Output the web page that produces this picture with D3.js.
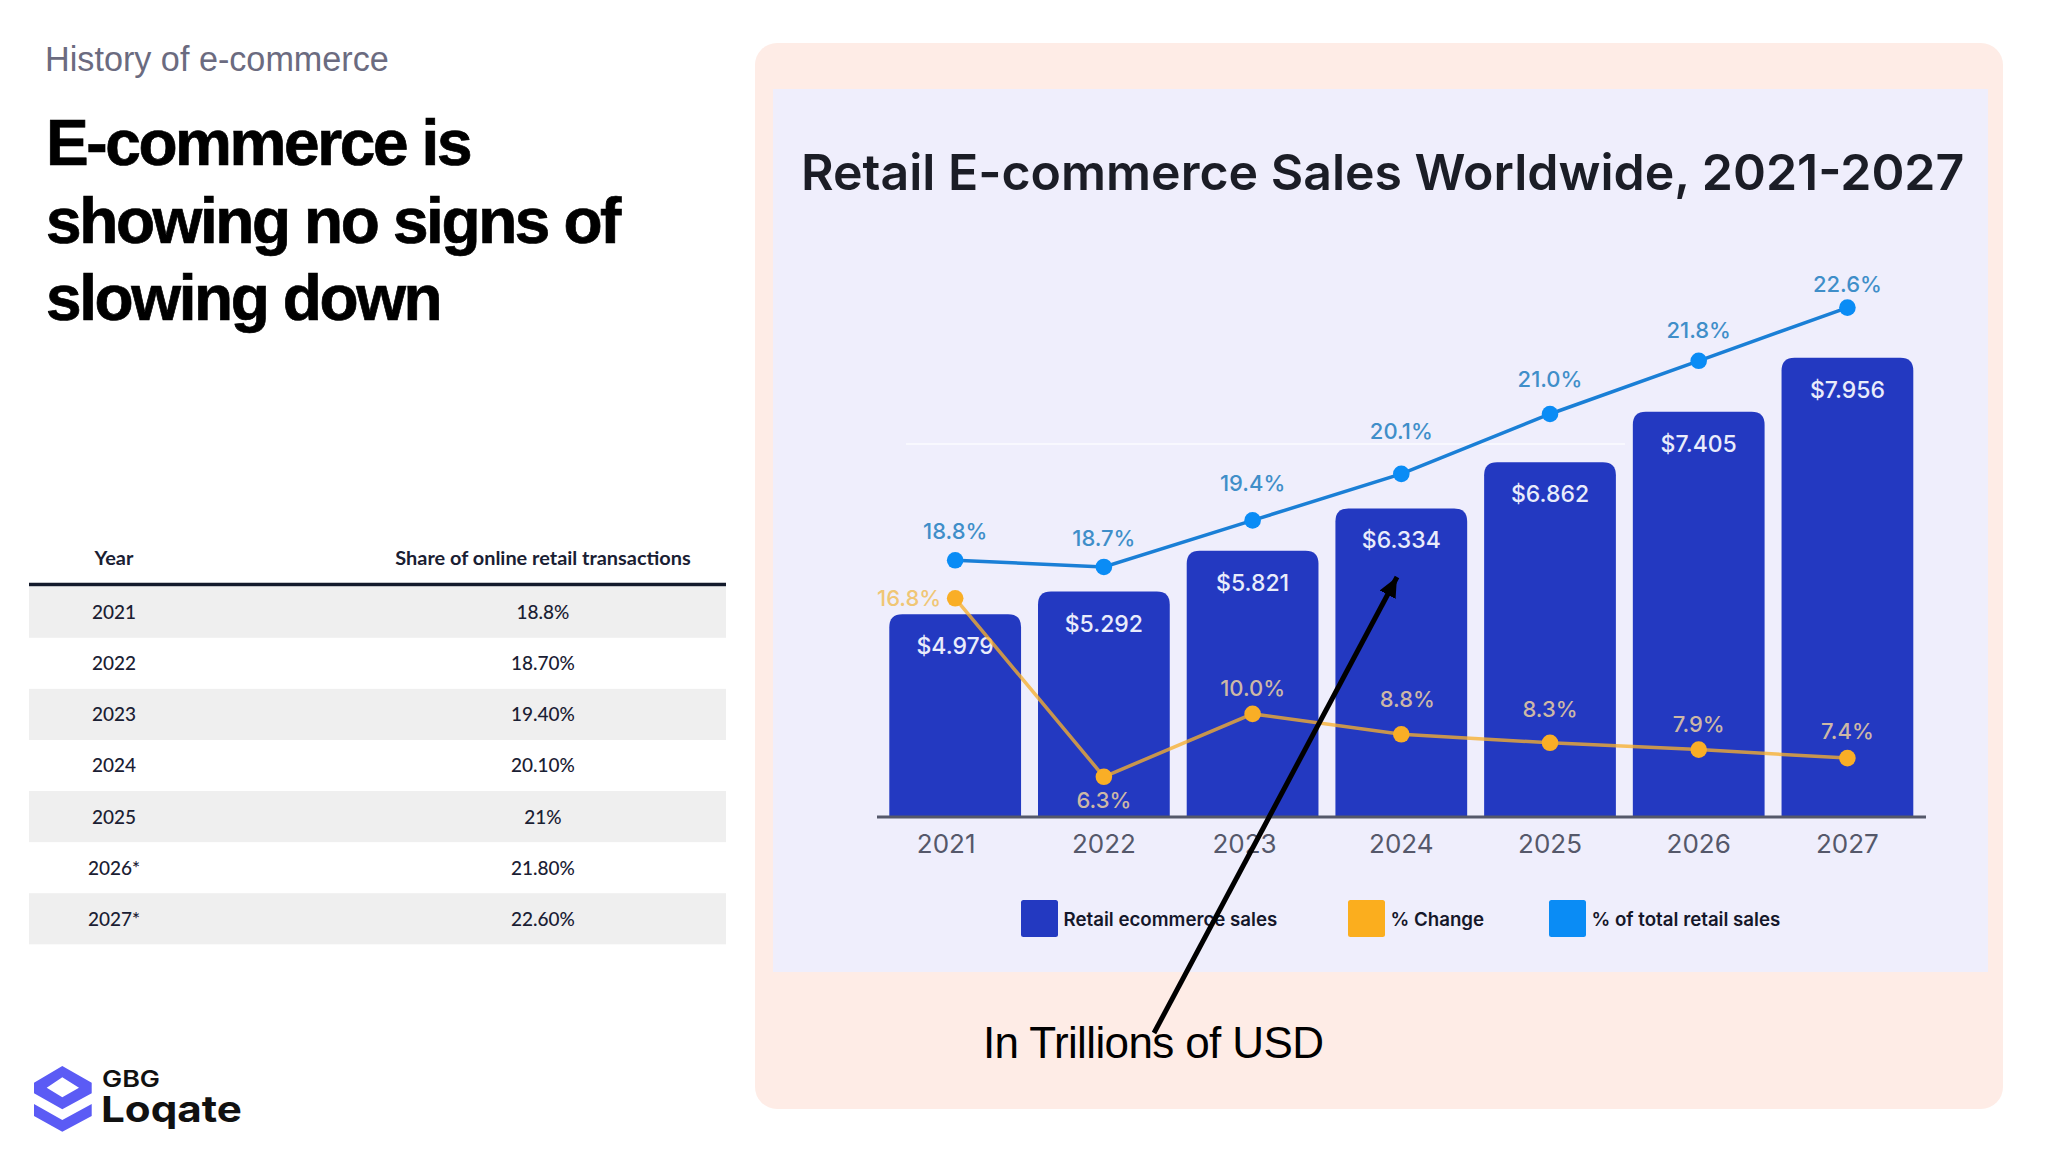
<!DOCTYPE html>
<html>
<head>
<meta charset="utf-8">
<script src="https://d3js.org/d3.v7.min.js"></script>
<style>
  html, body { margin: 0; padding: 0; background: #fff; }
  svg { display: block; }
</style>
</head>
<body>
<div id="chart"></div>
<script>
// Data
const years = ["2021", "2022", "2023", "2024", "2025", "2026", "2027"];
const salesValues = [4.979, 5.292, 5.821, 6.334, 6.862, 7.405, 7.956];
const changePct = [16.8, 6.3, 10.0, 8.8, 8.3, 7.9, 7.4];
const sharePct = [18.8, 18.7, 19.4, 20.1, 21.0, 21.8, 22.6];
const legendLabels = ["Retail ecommerce sales", "% Change", "% of total retail sales"];

const tableHeader = ["Year", "Share of online retail transactions"];
const tableYears = ["2021", "2022", "2023", "2024", "2025", "2026*", "2027*"];
const tableShares = ["18.8%", "18.70%", "19.40%", "20.10%", "21%", "21.80%", "22.60%"];

const eyebrow = "History of e-commerce";
const headingLines = ["E-commerce is", "showing no signs of", "slowing down"];
const chartTitle = "Retail E-commerce Sales Worldwide, 2021-2027";
const noteText = "In Trillions of USD";

// Colours
const barColor = "#2339C1", orangeColor = "#FBAE1E", blueColor = "#0A8CF5";

const svg = d3.select("#chart").append("svg")
  .attr("width", 2048)
  .attr("height", 1152)
  .style("font-family", "Inter, sans-serif");

// Panels
svg.append("rect").attr("x", 755).attr("y", 43).attr("width", 1248).attr("height", 1066)
  .attr("rx", 22).attr("fill", "#FEECE6");
svg.append("rect").attr("x", 773).attr("y", 89).attr("width", 1215).attr("height", 883)
  .attr("fill", "#EFEEFC");

// Left column text
svg.append("text").attr("x", 45).attr("y", 71)
  .style("font-family", "'Liberation Sans', sans-serif")
  .style("font-size", "34.2px").attr("fill", "#6B6B80").text(eyebrow);

svg.append("g").selectAll("text").data(headingLines).join("text")
  .attr("x", 46)
  .attr("y", (d, i) => 165 + i * 77.5)
  .style("font-family", "'Liberation Sans', sans-serif")
  .style("font-size", "64px").style("font-weight", 700).style("letter-spacing", "-2.4px")
  .attr("fill", "#000").attr("stroke", "#000").attr("stroke-width", 0.7).text(d => d);

// Table
const rowY = d3.scaleBand().domain(tableYears).range([586.7, 944.3]);
const table = svg.append("g").style("font-family", "Lato, sans-serif").attr("fill", "#1A2033");

table.selectAll("rect").data(tableYears.filter((d, i) => i % 2 === 0)).join("rect")
  .attr("x", 29).attr("width", 697)
  .attr("y", d => rowY(d)).attr("height", rowY.bandwidth())
  .attr("fill", "#EFEFEF");

table.append("line").attr("x1", 29).attr("x2", 726).attr("y1", 584.5).attr("y2", 584.5)
  .attr("stroke", "#131A2B").attr("stroke-width", 3.5);

table.selectAll("text.head").data(tableHeader).join("text").attr("class", "head")
  .attr("x", (d, i) => i === 0 ? 114 : 543).attr("y", 565)
  .attr("text-anchor", "middle").style("font-size", "19.9px").style("font-weight", 700)
  .text(d => d);

table.selectAll("text.year").data(tableYears).join("text").attr("class", "year")
  .attr("x", 114).attr("y", d => rowY(d) + 32.5)
  .attr("text-anchor", "middle").style("font-size", "19px").style("font-weight", 500).text(d => d);

table.selectAll("text.share").data(tableShares).join("text").attr("class", "share")
  .attr("x", 543).attr("y", (d, i) => rowY(tableYears[i]) + 32.5)
  .attr("text-anchor", "middle").style("font-size", "19px").style("font-weight", 500).text(d => d);

// Logo
const logo = svg.append("g").attr("fill", "#5B5BF5");
logo.append("path").attr("fill-rule", "evenodd")
  .attr("d", "M62.3 1066 L91.7 1082.7 V1093.3 L62.3 1109.3 L34 1093.3 V1082.7 Z M62.3 1077.3 L46.7 1087.7 L62.3 1097.3 L79 1087.7 Z");
logo.append("path").attr("d", "M34 1104 L62.3 1120 L91.7 1104 V1116 L62.3 1131.7 L34 1116 Z");
svg.append("text").attr("x", 102).attr("y", 1087).style("font-size", "23px").style("font-weight", 600)
  .attr("textLength", 58).attr("lengthAdjust", "spacingAndGlyphs")
  .attr("fill", "#111").text("GBG");
svg.append("text").attr("x", 101).attr("y", 1122).style("font-size", "36px").style("font-weight", 700)
  .attr("textLength", 141).attr("lengthAdjust", "spacingAndGlyphs")
  .attr("fill", "#111").text("Loqate");

// Chart title
svg.append("text").attr("x", 801).attr("y", 190)
  .style("font-size", "50px").style("font-weight", 600).attr("fill", "#1B1D26").text(chartTitle);

// Scales
const x = d3.scaleBand().domain(years).range([889.3, 1913.3]).paddingInner(0.114);
const baseY = 817;
// the original bars are not proportional to their labels, a power scale follows them best
const ySales = d3.scalePow().exponent(1.745).domain([0, 7.956]).range([baseY, 357.7]);
const yShare = d3.scaleLinear().domain([18.8, 22.6]).range([560.3, 307.6]);
const yChange = d3.scaleLinear().domain([16.8, 6.3]).range([598.3, 776.8]);
const cx = d => x(d) + x.bandwidth() / 2;

// Faint gridline behind the bars
svg.append("line").attr("x1", 906).attr("x2", 1625).attr("y1", 444).attr("y2", 444)
  .attr("stroke", "#F8F8FE").attr("stroke-width", 2);

// Bars
const barRadius = 13;
svg.append("g").selectAll("path").data(years).join("path")
  .attr("fill", barColor)
  .attr("d", (d, i) => {
    const x0 = x(d), w = x.bandwidth(), top = ySales(salesValues[i]);
    return `M${x0},${baseY}V${top + barRadius}Q${x0},${top} ${x0 + barRadius},${top}` +
      `H${x0 + w - barRadius}Q${x0 + w},${top} ${x0 + w},${top + barRadius}V${baseY}Z`;
  });

svg.append("g").selectAll("text").data(years).join("text")
  .attr("x", d => cx(d))
  .attr("y", (d, i) => ySales(salesValues[i]) + 40)
  .attr("text-anchor", "middle").attr("fill", "#E9ECFB")
  .style("font-size", "23px").style("font-weight", 500)
  .text((d, i) => "$" + salesValues[i].toFixed(3));

// Axis
const tickNudge = [-9, 0, -8, 0, 0, 0, 0];
const axis = svg.append("g").attr("transform", `translate(0,${baseY})`)
  .call(d3.axisBottom(x).tickSize(0).tickPadding(18));
axis.select(".domain").attr("d", "M877,0H1926").attr("stroke", "#55586A").attr("stroke-width", 3);
axis.selectAll("text")
  .attr("dx", (d, i) => tickNudge[i])
  .attr("fill", "#55586A").style("font-family", "Inter, sans-serif").style("font-size", "26px");

// Lines
const shareLine = d3.line().x(d => cx(d)).y((d, i) => yShare(sharePct[i]));
const changeLine = d3.line().x(d => cx(d)).y((d, i) => yChange(changePct[i]));

svg.append("path").attr("d", shareLine(years)).attr("fill", "none")
  .attr("stroke", "#1A7FD6").attr("stroke-width", 3.5);
svg.append("path").attr("d", changeLine(years)).attr("fill", "none")
  .attr("stroke", "#F6B02E").attr("stroke-opacity", 0.78).attr("stroke-width", 3.5);

svg.append("g").selectAll("circle").data(years).join("circle")
  .attr("cx", d => cx(d)).attr("cy", (d, i) => yShare(sharePct[i])).attr("r", 8.3)
  .attr("fill", blueColor);
svg.append("g").selectAll("circle").data(years).join("circle")
  .attr("cx", d => cx(d)).attr("cy", (d, i) => yChange(changePct[i])).attr("r", 8.3)
  .attr("fill", "#F9AE26");

// Line labels, each gap is how far the label sits from its point
const shareGap = [21, 21, 29, 35, 27, 23, 16];
const changeGap = [-8, -31.5, 18, 27.5, 25.5, 17.5, 19];
const changeDx = [-14, 0, 0, 6, 0, 0, 0];

svg.append("g").selectAll("text").data(years).join("text")
  .attr("x", d => cx(d))
  .attr("y", (d, i) => yShare(sharePct[i]) - shareGap[i])
  .attr("text-anchor", "middle").attr("fill", "#3F8EC9")
  .style("font-size", "22px").style("font-weight", 500)
  .text((d, i) => sharePct[i].toFixed(1) + "%");

svg.append("g").selectAll("text").data(years).join("text")
  .attr("x", (d, i) => cx(d) + changeDx[i])
  .attr("y", (d, i) => yChange(changePct[i]) - changeGap[i])
  .attr("text-anchor", (d, i) => i === 0 ? "end" : "middle")
  .attr("fill", (d, i) => i === 0 ? "#F0C675" : "#CDB8A6")
  .style("font-size", "22px").style("font-weight", 500)
  .text((d, i) => changePct[i].toFixed(1) + "%");

// Legend
const legendX = d3.scaleOrdinal().domain(legendLabels).range([1021, 1348, 1549]);
const legendColor = d3.scaleOrdinal().domain(legendLabels).range([barColor, orangeColor, blueColor]);
const legend = svg.append("g").selectAll("g").data(legendLabels).join("g")
  .attr("transform", d => `translate(${legendX(d)},900)`);
legend.append("rect").attr("width", 37).attr("height", 37).attr("rx", 2.5)
  .attr("fill", d => legendColor(d));
legend.append("text").attr("x", 42.5).attr("y", 25.5)
  .style("font-size", "18.7px").style("font-weight", 600).attr("fill", "#15172A").text(d => d);

// Arrow and note
const defs = svg.append("defs");
defs.append("marker").attr("id", "head")
  .attr("viewBox", "0 0 20 20").attr("refX", 20).attr("refY", 10)
  .attr("markerWidth", 20).attr("markerHeight", 20).attr("markerUnits", "userSpaceOnUse")
  .attr("orient", "auto")
  .append("path").attr("d", "M0,1L20,10L0,19Z").attr("fill", "#000");
svg.append("line").attr("x1", 1154).attr("y1", 1033).attr("x2", 1397).attr("y2", 577)
  .attr("stroke", "#000").attr("stroke-width", 5).attr("marker-end", "url(#head)");

svg.append("text").attr("x", 983).attr("y", 1058)
  .style("font-family", "'Liberation Sans', sans-serif").style("font-size", "44px")
  .style("letter-spacing", "-0.62px").attr("fill", "#000").text(noteText);
</script>
</body>
</html>
